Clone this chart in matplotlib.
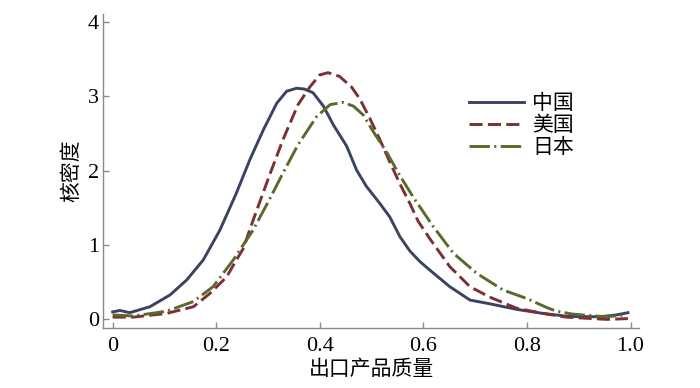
import matplotlib
matplotlib.use("Agg")
import matplotlib.pyplot as plt

# kernel density curves
x_china = [0.0, 0.014, 0.033, 0.072, 0.111, 0.143, 0.175, 0.207, 0.239, 0.265,
           0.291, 0.317, 0.336, 0.355, 0.37, 0.387, 0.407, 0.426, 0.452, 0.471,
           0.49, 0.516, 0.535, 0.555, 0.574, 0.593, 0.613, 0.651, 0.69, 0.728,
           0.78, 0.831, 0.88, 0.94, 0.973, 0.995]
y_china = [0.10, 0.12, 0.09, 0.17, 0.33, 0.53, 0.80, 1.20, 1.70, 2.15,
           2.55, 2.91, 3.07, 3.11, 3.10, 3.05, 2.87, 2.62, 2.33, 2.01,
           1.79, 1.56, 1.38, 1.11, 0.92, 0.78, 0.66, 0.44, 0.26, 0.21,
           0.135, 0.08, 0.04, 0.035, 0.06, 0.09]

x_usa = [0.0, 0.04, 0.104, 0.156, 0.188, 0.22, 0.239, 0.252, 0.271, 0.304,
         0.329, 0.358, 0.381, 0.40, 0.416, 0.438, 0.461, 0.477, 0.497, 0.516,
         0.535, 0.555, 0.574, 0.59, 0.613, 0.651, 0.69, 0.728, 0.78, 0.831,
         0.876, 0.954, 0.995]
y_usa = [0.03, 0.03, 0.08, 0.17, 0.35, 0.57, 0.80, 0.95, 1.33, 1.96,
         2.42, 2.89, 3.13, 3.29, 3.32, 3.27, 3.13, 2.97, 2.70, 2.42,
         2.12, 1.82, 1.56, 1.32, 1.08, 0.71, 0.44, 0.30, 0.15, 0.08,
         0.03, 0.0, 0.01]

x_japan = [0.0, 0.04, 0.104, 0.156, 0.194, 0.233, 0.271, 0.304, 0.329, 0.358,
           0.394, 0.42, 0.445, 0.465, 0.484, 0.503, 0.529, 0.555, 0.58, 0.619,
           0.658, 0.703, 0.754, 0.80, 0.838, 0.857, 0.889, 0.954, 0.99]
y_japan = [0.06, 0.045, 0.11, 0.24, 0.44, 0.80, 1.20, 1.63, 1.97, 2.35,
           2.73, 2.89, 2.92, 2.87, 2.75, 2.53, 2.25, 1.93, 1.65, 1.25,
           0.89, 0.62, 0.395, 0.28, 0.16, 0.11, 0.07, 0.035, 0.06]

labels = ["中国", "美国", "日本"]
x_ticks = [0, 0.2, 0.4, 0.6, 0.8, 1.0]
x_tick_labels = ["0", "0.2", "0.4", "0.6", "0.8", "1.0"]
y_ticks = [0, 1, 2, 3, 4]

cjk = ["Noto Sans CJK SC", "DejaVu Sans"]
serif = "Liberation Serif"

fig = plt.figure(figsize=(7, 3.88), dpi=100)
ax = fig.add_axes([0.1476, 0.1539, 0.9133 - 0.1476, 0.964 - 0.1539])

ax.plot(x_china, y_china, color="#3b4364", lw=2.1, label=labels[0])
ax.plot(x_usa, y_usa, color="#7e2f35", lw=2.1, dashes=(4.5, 1.8), label=labels[1])
ax.plot(x_japan, y_japan, color="#5b6a2c", lw=2.1, dashes=(7, 1.5, 0.7, 1.5),
        label=labels[2])

ax.set_xlim(-0.018, 1.017)
ax.set_ylim(-0.12, 4.11)
ax.set_xticks(x_ticks)
ax.set_xticklabels(x_tick_labels)
ax.set_yticks(y_ticks)

for s in ["top", "right"]:
    ax.spines[s].set_visible(False)
for s in ["left", "bottom"]:
    ax.spines[s].set_color("#8a8a8a")
    ax.spines[s].set_linewidth(1.0)

ax.tick_params(direction="in", length=4, width=1, color="#8a8a8a",
               labelsize=16, pad=3)
ax.tick_params(axis="x", pad=6)
for t in ax.get_xticklabels() + ax.get_yticklabels():
    t.set_fontfamily(serif)

ax.set_xlabel("出口产品质量", family=cjk, fontsize=15, labelpad=2)
ax.set_ylabel("核密度", family=cjk, fontsize=15, labelpad=4)

leg = ax.legend(loc="upper left", bbox_to_anchor=(0.662, 0.785), frameon=False,
                prop={"family": cjk, "size": 15}, handlelength=2.65,
                handletextpad=0.4, labelspacing=0.0, borderpad=0)

fig.savefig("out.png", dpi=100)
